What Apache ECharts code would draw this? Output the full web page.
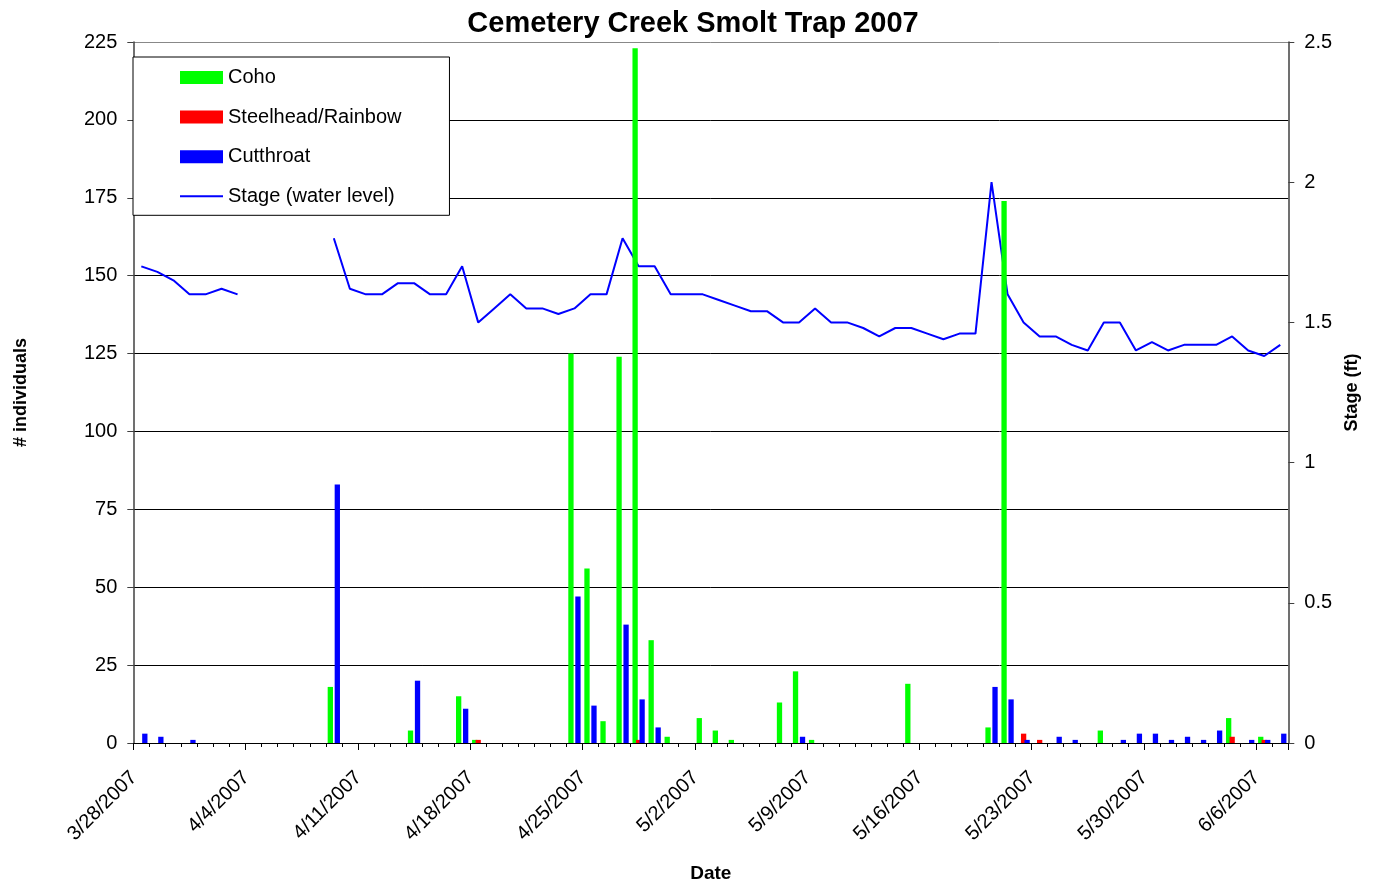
<!DOCTYPE html>
<html>
<head>
<meta charset="utf-8">
<script src="https://cdn.jsdelivr.net/npm/echarts@6/dist/echarts.min.js"></script>
<style>html,body{margin:0;padding:0;background:#fff;}#c{width:1375px;height:883px;}</style>
</head>
<body>
<div id="c"></div>
<script>
var dates = ['3/28/2007','3/29/2007','3/30/2007','3/31/2007','4/1/2007','4/2/2007','4/3/2007',
'4/4/2007','4/5/2007','4/6/2007','4/7/2007','4/8/2007','4/9/2007','4/10/2007',
'4/11/2007','4/12/2007','4/13/2007','4/14/2007','4/15/2007','4/16/2007','4/17/2007',
'4/18/2007','4/19/2007','4/20/2007','4/21/2007','4/22/2007','4/23/2007','4/24/2007',
'4/25/2007','4/26/2007','4/27/2007','4/28/2007','4/29/2007','4/30/2007','5/1/2007',
'5/2/2007','5/3/2007','5/4/2007','5/5/2007','5/6/2007','5/7/2007','5/8/2007',
'5/9/2007','5/10/2007','5/11/2007','5/12/2007','5/13/2007','5/14/2007','5/15/2007',
'5/16/2007','5/17/2007','5/18/2007','5/19/2007','5/20/2007','5/21/2007','5/22/2007',
'5/23/2007','5/24/2007','5/25/2007','5/26/2007','5/27/2007','5/28/2007','5/29/2007',
'5/30/2007','5/31/2007','6/1/2007','6/2/2007','6/3/2007','6/4/2007','6/5/2007',
'6/6/2007','6/7/2007'];

var coho = [0,0,0,0,0,0,0, 0,0,0,0,0,18,0, 0,0,0,4,0,0,15, 1,0,0,0,0,0,125,
56,7,124,223,33,2,0, 8,4,1,0,0,13,23, 1,0,0,0,0,0,19, 0,0,0,0,5,174,0,
0,0,0,0,4,0,0, 0,0,0,0,0,8,0, 2,0];

var steelhead = [0,0,0,0,0,0,0, 0,0,0,0,0,0,0, 0,0,0,0,0,0,0, 1,0,0,0,0,0,0,
0,0,0,1,0,0,0, 0,0,0,0,0,0,0, 0,0,0,0,0,0,0, 0,0,0,0,0,0,3,
1,0,0,0,0,0,0, 0,0,0,0,0,2,0, 1,0];

var cutthroat = [3,2,0,1,0,0,0, 0,0,0,0,0,83,0, 0,0,0,20,0,0,11, 0,0,0,0,0,0,47,
12,0,38,14,5,0,0, 0,0,0,0,0,0,2, 0,0,0,0,0,0,0, 0,0,0,0,18,14,1,
0,2,1,0,0,1,3, 3,1,2,1,4,0,1, 1,3];

var stage = [1.70,1.68,1.65,1.60,1.60,1.62,1.60, null,null,null,null,null,1.80,1.62,
1.60,1.60,1.64,1.64,1.60,1.60,1.70, 1.50,1.55,1.60,1.55,1.55,1.53,1.55,
1.60,1.60,1.80,1.70,1.70,1.60,1.60, 1.60,1.58,1.56,1.54,1.54,1.50,1.50,
1.55,1.50,1.50,1.48,1.45,1.48,1.48, 1.46,1.44,1.46,1.46,2.00,1.60,1.50,
1.45,1.45,1.42,1.40,1.50,1.50,1.40, 1.43,1.40,1.42,1.42,1.42,1.45,1.40,
1.38,1.42];

var leftTicks = {min: 0, max: 225, interval: 25};
var rightTicks = {min: 0, max: 2.5, interval: 0.5};

var FONT = "'Liberation Sans', Arial, sans-serif";
var chart = echarts.init(document.getElementById('c'), null, {renderer: 'canvas'});
var splitColors = ['#000','#000','#000','#000','#000','#000','#000','#000','#000','#888'];

chart.setOption({
  animation: false,
  backgroundColor: '#fff',
  textStyle: {fontFamily: FONT, color: '#000'},
  title: {
    text: 'Cemetery Creek Smolt Trap 2007',
    left: 688, top: 4, textAlign: 'center',
    textStyle: {fontFamily: FONT, fontSize: 29, fontWeight: 'bold', color: '#000'}
  },
  legend: {
    orient: 'vertical', left: 133, top: 57,
    padding: [10.5, 48, 9, 47],
    itemWidth: 43, itemHeight: 13, itemGap: 19.6,
    borderColor: '#000', borderWidth: 1, backgroundColor: '#fff',
    textStyle: {fontFamily: FONT, fontSize: 20, color: '#000'},
    data: [
      {name: 'Coho', icon: 'rect'},
      {name: 'Steelhead/Rainbow', icon: 'rect'},
      {name: 'Cutthroat', icon: 'rect'},
      {name: 'Stage (water level)', icon: 'path://M0,0L43,0L43,2L0,2Z'}
    ]
  },
  grid: {left: 133.3, right: 86.7, top: 42, bottom: 140, containLabel: false, outerBoundsMode: 'none'},
  xAxis: [{
    type: 'category', data: dates, boundaryGap: true, position: 'bottom',
    name: 'Date', nameLocation: 'middle', nameGap: 121,
    nameTextStyle: {fontFamily: FONT, fontSize: 19, fontWeight: 'bold', color: '#000'},
    axisLine: {lineStyle: {color: '#000', width: 1}},
    axisTick: {show: true, interval: 0, length: 4, lineStyle: {color: '#000'}},
    axisLabel: {interval: 6, rotate: 45, margin: 24, padding: [0, 10.5, 12, 0],
      fontFamily: FONT, fontSize: 20, color: '#000'},
    splitLine: {show: false}
  }, {
    type: 'value', min: 0, max: 72, interval: 7, position: 'bottom',
    axisLine: {show: false},
    axisTick: {show: true, length: 7, lineStyle: {color: '#000'}},
    axisLabel: {show: false},
    splitLine: {show: false}
  }],
  yAxis: [{
    type: 'value', min: leftTicks.min, max: leftTicks.max, interval: leftTicks.interval,
    position: 'left',
    name: '# individuals', nameLocation: 'middle', nameGap: 103, nameRotate: 90,
    nameTextStyle: {fontFamily: FONT, fontSize: 18, fontWeight: 'bold', color: '#000'},
    axisLine: {show: true, lineStyle: {color: '#404040', width: 1.5}},
    axisTick: {show: true, length: 6, lineStyle: {color: '#404040'}},
    axisLabel: {margin: 16, fontFamily: FONT, fontSize: 20, color: '#000'},
    splitLine: {show: true, lineStyle: {color: splitColors, width: 1}}
  }, {
    type: 'value', min: rightTicks.min, max: rightTicks.max, interval: rightTicks.interval,
    position: 'right',
    name: 'Stage (ft)', nameLocation: 'middle', nameGap: 55, nameRotate: 90,
    nameTextStyle: {fontFamily: FONT, fontSize: 18, fontWeight: 'bold', color: '#000'},
    axisLine: {show: true, lineStyle: {color: '#404040', width: 1.5}},
    axisTick: {show: true, length: 6, lineStyle: {color: '#404040'}},
    axisLabel: {margin: 16, fontFamily: FONT, fontSize: 20, color: '#000'},
    splitLine: {show: false}
  }],
  series: [
    {name: 'Coho', type: 'bar', data: coho, xAxisIndex: 0, yAxisIndex: 0,
     barWidth: 5.3, barGap: '-34%', itemStyle: {color: '#00FF00'}, z: 3},
    {name: 'Steelhead/Rainbow', type: 'bar', data: steelhead, xAxisIndex: 0, yAxisIndex: 0,
     barWidth: 5.3, barGap: '-34%', itemStyle: {color: '#FF0000'}, z: 3},
    {name: 'Cutthroat', type: 'bar', data: cutthroat, xAxisIndex: 0, yAxisIndex: 0,
     barWidth: 5.3, barGap: '-34%', itemStyle: {color: '#0000FF'}, z: 3},
    {name: 'Stage (water level)', type: 'line', data: stage, xAxisIndex: 0, yAxisIndex: 1,
     symbol: 'none', connectNulls: false, lineStyle: {color: '#0000FF', width: 2},
     itemStyle: {color: '#0000FF'}, z: 2}
  ]
});
</script>
</body>
</html>
